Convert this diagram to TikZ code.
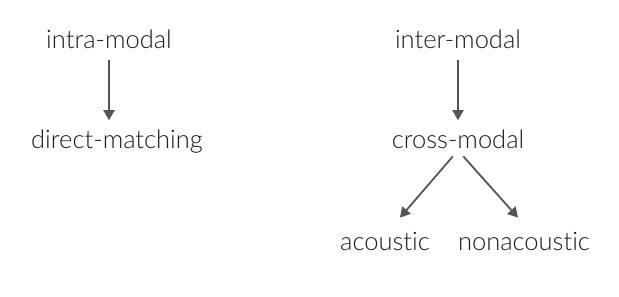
\documentclass[tikz,border=0pt]{standalone}
\usepackage{fontspec}
\setmainfont{Lato Light}[Ligatures={NoCommon,NoRequired,NoContextual}]
\definecolor{mText}{HTML}{1A1A1A}
\definecolor{mArrow}{HTML}{555555}
\usetikzlibrary{arrows.meta,calc}

\begin{document}
\begin{tikzpicture}[x=1pt, y=-1pt, font=\fontsize{25.5}{30}\selectfont,
  lbl/.style={text=mText, anchor=base, inner sep=2pt},
  link/.style={-{Triangle[length=10pt,width=11pt]}, mArrow, line width=1.8pt}]
\useasboundingbox (0,0) rectangle (619,297);
\node[lbl] (intra) at (109,48) {intra-modal};
\node[lbl] (direct) at (117,148) {direct-matching};
\node[lbl] (inter) at (458,48) {inter-modal};
\node[lbl] (cross) at (458,148) {cross-modal};
\node[lbl] (acoustic) at (385,250) {acoustic};
\node[lbl] (nonacoustic) at (524,250) {nonacoustic};
\draw[link, shorten <=10pt, shorten >=7pt] (intra.south) -- (intra.south |- direct.north);
\draw[link, shorten <=10pt, shorten >=7pt] (inter.south) -- (direct.north -| inter.south);
\draw[link, shorten <=8pt] (cross.south) -- ($(acoustic.north)+(15,-12)$);
\draw[link, shorten <=8pt] (cross.south) -- ($(nonacoustic.north)+(-6,-12)$);
\end{tikzpicture}
\end{document}
